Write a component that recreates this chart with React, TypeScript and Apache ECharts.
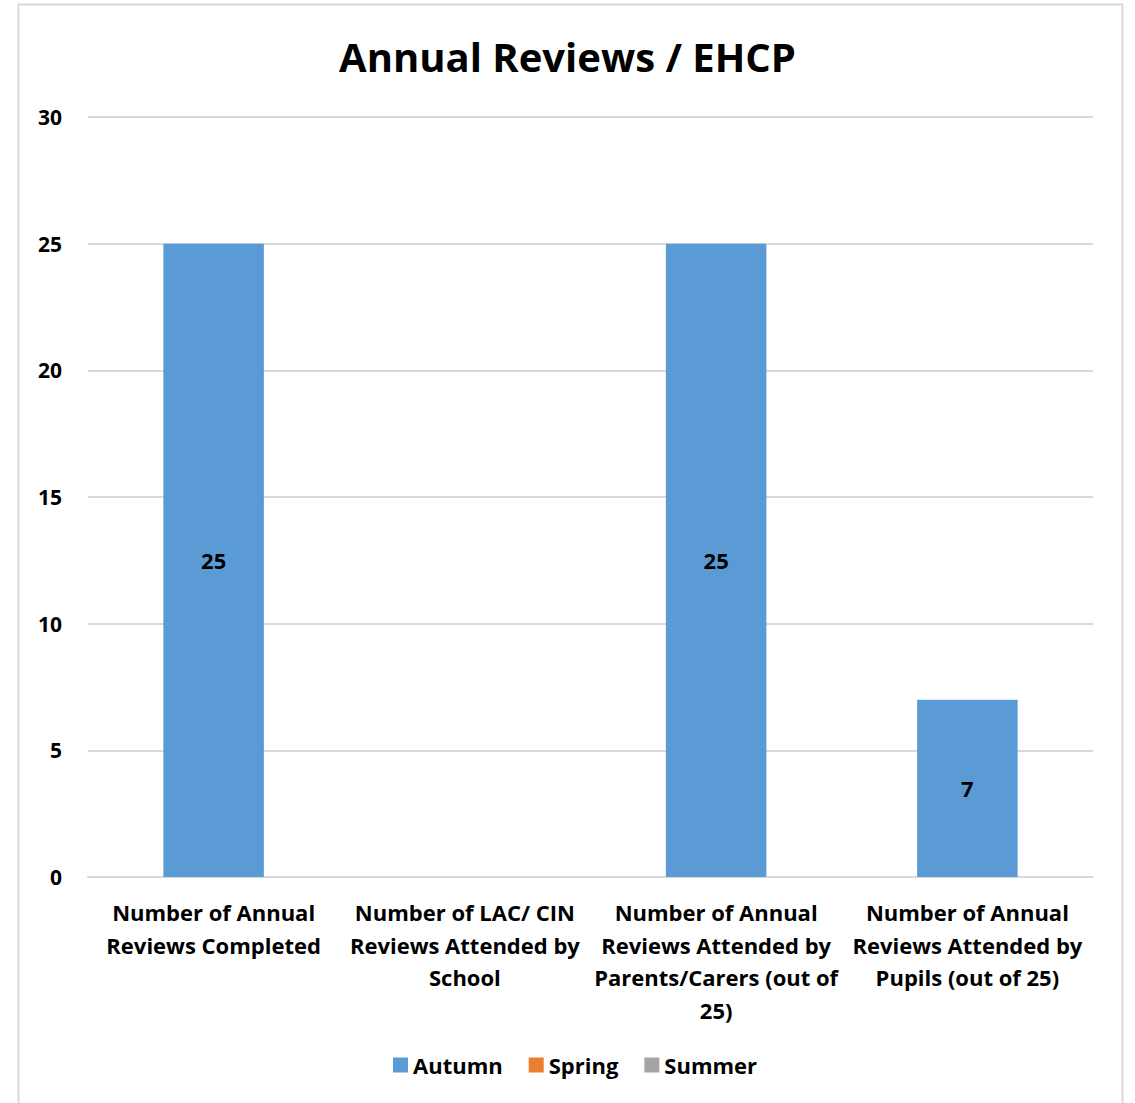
import React, { useEffect, useRef } from "react";
import * as echarts from "echarts";

const categories = [
  "Number of Annual\nReviews Completed",
  "Number of LAC/ CIN\nReviews Attended by\nSchool",
  "Number of Annual\nReviews Attended by\nParents/Carers (out of\n25)",
  "Number of Annual\nReviews Attended by\nPupils (out of 25)",
];
const autumn = [25, null, 25, 7];
const spring = [null, null, null, null];
const summer = [null, null, null, null];
const yTicks = { min: 0, max: 30, interval: 5 };

const FONT = "'Open Sans', Lato, sans-serif";

export default function App() {
  const ref = useRef<HTMLDivElement>(null);
  useEffect(() => {
    document.body.style.margin = "0";
    const chart = echarts.init(ref.current!, null, { renderer: "svg" });
    const labelStyle = {
      show: true,
      position: "inside",
      color: "#000",
      fontWeight: "bold",
      fontSize: 22,
      fontFamily: FONT,
    };
    chart.setOption({
      animation: false,
      backgroundColor: "#fff",
      title: {
        text: "Annual Reviews / EHCP",
        left: "center",
        top: 31,
        textStyle: { fontFamily: FONT, fontWeight: "bold", fontSize: 40, color: "#000" },
      },
      graphic: [
        {
          type: "rect",
          shape: { x: 18.5, y: 4.5, width: 1104, height: 1120 },
          style: { fill: "none", stroke: "#d9d9d9", lineWidth: 2 },
          silent: true,
        },
      ],
      legend: {
        bottom: 22,
        left: 388,
        icon: "rect",
        itemWidth: 15,
        itemHeight: 15,
        itemGap: 26,
        textStyle: { fontFamily: FONT, fontWeight: "bold", fontSize: 22, color: "#000" },
        data: ["Autumn", "Spring", "Summer"],
      },
      grid: { left: 88, right: 42, top: 117, bottom: 226, containLabel: false },
      xAxis: {
        type: "category",
        data: categories,
        axisTick: { show: false },
        axisLine: { lineStyle: { color: "#d9d9d9", width: 2 } },
        axisLabel: {
          interval: 0,
          margin: 19,
          fontFamily: FONT,
          fontWeight: "bold",
          fontSize: 22,
          lineHeight: 32.5,
          color: "#000",
          align: "center",
        },
      },
      yAxis: {
        type: "value",
        min: yTicks.min,
        max: yTicks.max,
        interval: yTicks.interval,
        axisLine: { show: false },
        axisTick: { show: false },
        splitLine: { lineStyle: { color: "#d9d9d9", width: 2 } },
        axisLabel: {
          margin: 26,
          fontFamily: FONT,
          fontWeight: "bold",
          fontSize: 21,
          color: "#000",
        },
      },
      series: [
        {
          name: "Autumn",
          type: "bar",
          stack: "s",
          barWidth: "40%",
          data: autumn,
          itemStyle: { color: "#5B9BD5" },
          label: labelStyle,
        },
        {
          name: "Spring",
          type: "bar",
          stack: "s",
          data: spring,
          itemStyle: { color: "#ED7D31" },
          label: labelStyle,
        },
        {
          name: "Summer",
          type: "bar",
          stack: "s",
          data: summer,
          itemStyle: { color: "#A5A5A5" },
          label: labelStyle,
        },
      ],
    });
    return () => chart.dispose();
  }, []);
  return (
    <div
      ref={ref}
      style={{ position: "absolute", left: 0, top: 0, width: 1135, height: 1103 }}
    />
  );
}
